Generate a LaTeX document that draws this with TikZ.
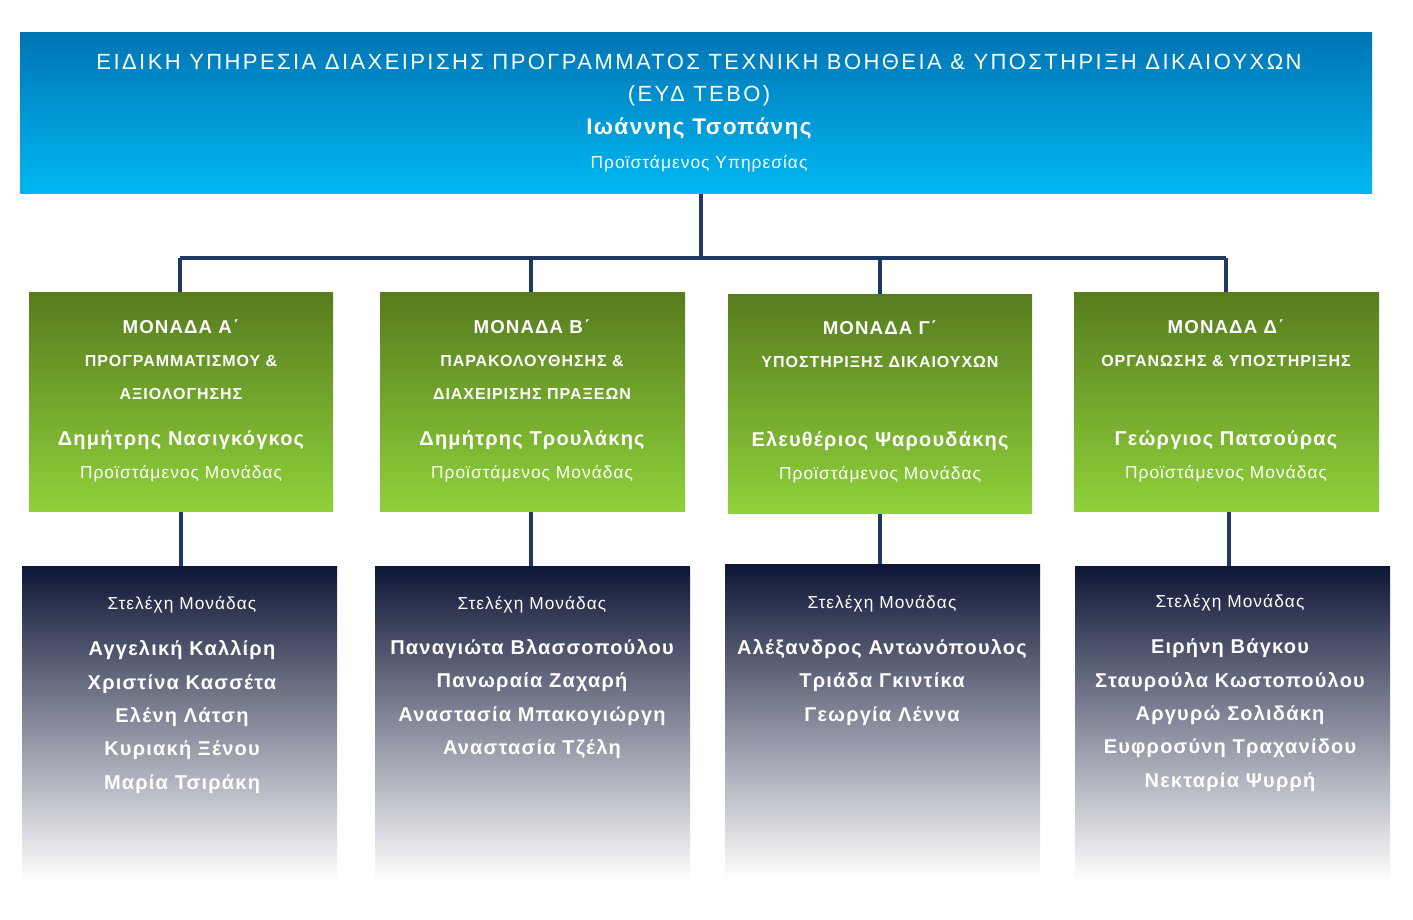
\documentclass[tikz,border=0pt]{standalone}
\usepackage{fontspec}
\setmainfont{Liberation Sans}[LetterSpace=6]
\begin{document}
\begin{tikzpicture}[x=0.75pt,y=-0.75pt,
  conn/.style={draw=lnc,line width=3pt},
  tx/.style={text=white,inner sep=0pt,anchor=center},
  hd/.style={tx,font=\bfseries\fontsize{14}{16}\selectfont},
  sh/.style={tx,font=\bfseries\fontsize{12}{14}\selectfont},
  nm/.style={tx,font=\bfseries\fontsize{15}{17}\selectfont},
  rl/.style={tx,font=\fontsize{13}{15}\selectfont},
  gbox/.style={top color=gtop,bottom color=gbot,draw=none},
  nbox/.style={top color=ntop,middle color=nmid,bottom color=white,draw=none}]
\definecolor{lnc}{HTML}{1F3864}
\definecolor{gtop}{HTML}{577C1E}
\definecolor{gbot}{HTML}{8FD13A}
\definecolor{ntop}{HTML}{0E1636}
\definecolor{nmid}{HTML}{4A5A8E}
\definecolor{btop}{HTML}{0075B5}
\definecolor{bbot}{HTML}{00B8F2}
\useasboundingbox[fill=white] (0,0) rectangle (1413,920);
\coordinate (hl) at (180,258); \coordinate (hr) at (1226,258); \coordinate (hc) at (701,258);
\coordinate (jb) at (531,258); \coordinate (jc) at (880,258);
\shade[top color=btop,bottom color=bbot] (20,33) rectangle (1372,194);
\draw[conn] (701,194) -- (hc);
\draw[conn] (hl) -- (hr);
\draw[conn] (hl) -- (180,292);
\draw[conn] (jb) -- (531,292);
\draw[conn] (jc) -- (880,294);
\draw[conn] (hr) -- (1226,292);
\draw[conn] (181,511) -- (181,566);
\draw[conn] (531,511) -- (531,566);
\draw[conn] (880,513) -- (880,564);
\draw[conn] (1229,511) -- (1229,566);
\node[tx,font=\fontsize{16.5}{18}\selectfont\addfontfeature{LetterSpace=11}] (t1) at (699,62) {ΕΙΔΙΚΗ ΥΠΗΡΕΣΙΑ ΔΙΑΧΕΙΡΙΣΗΣ ΠΡΟΓΡΑΜΜΑΤΟΣ ΤΕΧΝΙΚΗ ΒΟΗΘΕΙΑ \& ΥΠΟΣΤΗΡΙΞΗ ΔΙΚΑΙΟΥΧΩΝ};
\node[tx,font=\fontsize{16.5}{18}\selectfont\addfontfeature{LetterSpace=11}] (t2) at (699,96) {(ΕΥΔ ΤΕΒΟ)};
\node[tx,font=\bfseries\fontsize{17}{19}\selectfont] (t3) at (699,129) {Ιωάννης Τσοπάνης};
\node[rl] (t4) at (699,164) {Προϊστάμενος Υπηρεσίας};
\fill[gbox] (29,292) rectangle (333,511);
\fill[gbox] (380,292) rectangle (685,511);
\fill[gbox] (728,294) rectangle (1032,513);
\fill[gbox] (1074,292) rectangle (1379,511);
\node[hd] (a1) at (181,327) {ΜΟΝΑΔΑ Α΄};
\node[sh] (a2) at (181,361) {ΠΡΟΓΡΑΜΜΑΤΙΣΜΟΥ \&};
\node[sh] (a3) at (181,394) {ΑΞΙΟΛΟΓΗΣΗΣ};
\node[nm] (a4) at (181,440) {Δημήτρης Νασιγκόγκος};
\node[rl] (a5) at (181,474) {Προϊστάμενος Μονάδας};
\node[hd] (b1) at (532,327) {ΜΟΝΑΔΑ Β΄};
\node[sh] (b2) at (532,361) {ΠΑΡΑΚΟΛΟΥΘΗΣΗΣ \&};
\node[sh] (b3) at (532,394) {ΔΙΑΧΕΙΡΙΣΗΣ ΠΡΑΞΕΩΝ};
\node[nm] (b4) at (532,440) {Δημήτρης Τρουλάκης};
\node[rl] (b5) at (532,474) {Προϊστάμενος Μονάδας};
\node[hd] (c1) at (880,328) {ΜΟΝΑΔΑ Γ΄};
\node[sh] (c2) at (880,362) {ΥΠΟΣΤΗΡΙΞΗΣ ΔΙΚΑΙΟΥΧΩΝ};
\node[nm] (c4) at (880,441) {Ελευθέριος Ψαρουδάκης};
\node[rl] (c5) at (880,475) {Προϊστάμενος Μονάδας};
\node[hd] (d1) at (1226,327) {ΜΟΝΑΔΑ Δ΄};
\node[sh] (d2) at (1226,361) {ΟΡΓΑΝΩΣΗΣ \& ΥΠΟΣΤΗΡΙΞΗΣ};
\node[nm] (d4) at (1226,440) {Γεώργιος Πατσούρας};
\node[rl] (d5) at (1226,474) {Προϊστάμενος Μονάδας};
\fill[nbox] (22,566) rectangle (337,881);
\fill[nbox] (375,566) rectangle (690,881);
\fill[nbox] (725,564) rectangle (1040,879);
\fill[nbox] (1075,566) rectangle (1390,881);
\node[rl] (sa) at (182,605) {Στελέχη Μονάδας};
\node[nm] (sa1) at (182,650) {Αγγελική Καλλίρη};
\node[nm] (sa2) at (182,684) {Χριστίνα Κασσέτα};
\node[nm] (sa3) at (182,717) {Ελένη Λάτση};
\node[nm] (sa4) at (182,750) {Κυριακή Ξένου};
\node[nm] (sa5) at (182,784) {Μαρία Τσιράκη};
\node[rl] (sb) at (532,605) {Στελέχη Μονάδας};
\node[nm] (sb1) at (532,649) {Παναγιώτα Βλασσοπούλου};
\node[nm] (sb2) at (532,682) {Πανωραία Ζαχαρή};
\node[nm] (sb3) at (532,716) {Αναστασία Μπακογιώργη};
\node[nm] (sb4) at (532,749) {Αναστασία Τζέλη};
\node[rl] (sc) at (882,604) {Στελέχη Μονάδας};
\node[nm] (sc1) at (882,649) {Αλέξανδρος Αντωνόπουλος};
\node[nm] (sc2) at (882,682) {Τριάδα Γκιντίκα};
\node[nm] (sc3) at (882,716) {Γεωργία Λέννα};
\node[rl] (sd) at (1230,603) {Στελέχη Μονάδας};
\node[nm] (sd1) at (1230,648) {Ειρήνη Βάγκου};
\node[nm] (sd2) at (1230,682) {Σταυρούλα Κωστοπούλου};
\node[nm] (sd3) at (1230,715) {Αργυρώ Σολιδάκη};
\node[nm] (sd4) at (1230,748) {Ευφροσύνη Τραχανίδου};
\node[nm] (sd5) at (1230,782) {Νεκταρία Ψυρρή};
\end{tikzpicture}
\end{document}
